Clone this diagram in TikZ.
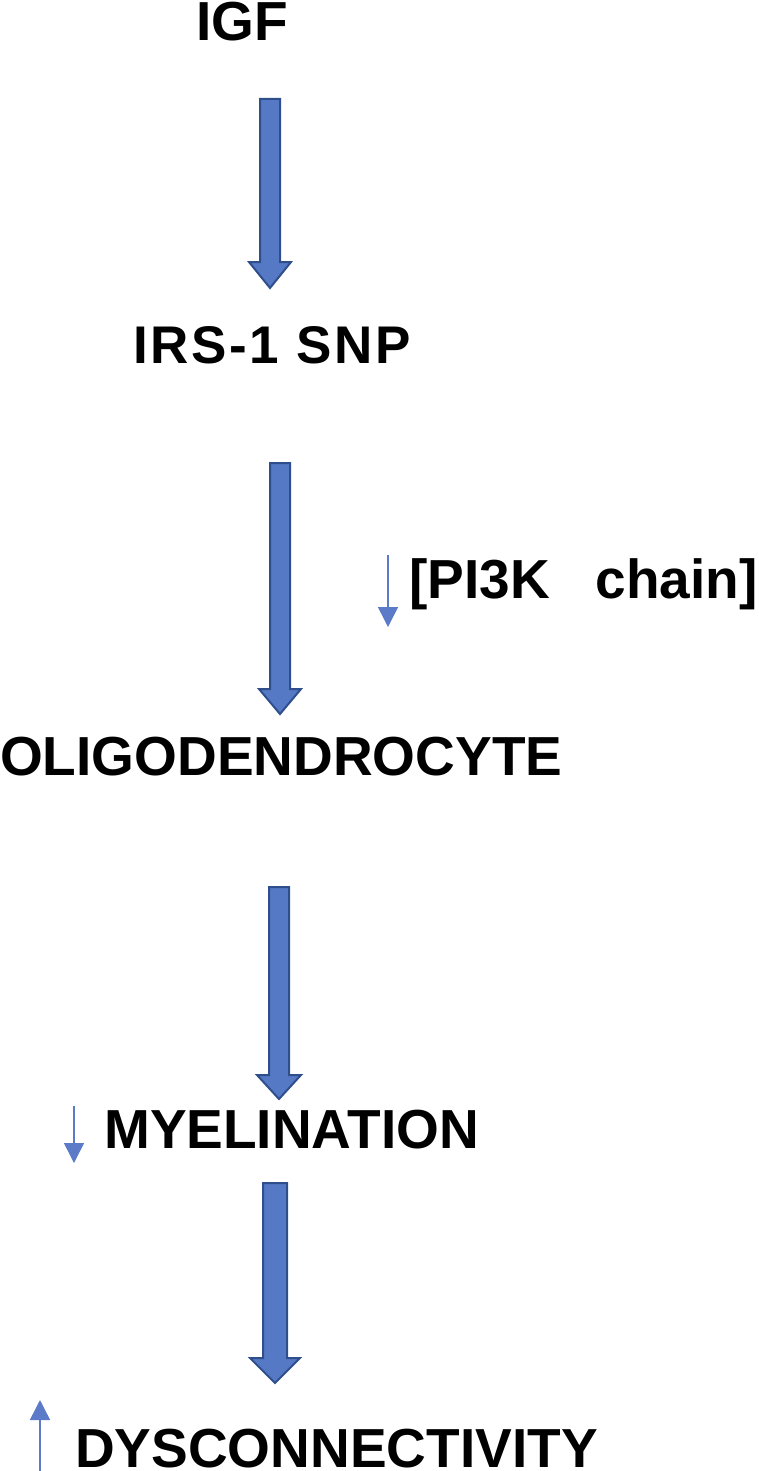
\documentclass[tikz,border=0pt]{standalone}
\usepackage{fontspec}
\setmainfont{Liberation Sans}
\usetikzlibrary{arrows.meta}
\definecolor{arrfill}{HTML}{5679C6}
\definecolor{arrline}{HTML}{2F4F8C}
\definecolor{thinblue}{HTML}{5B7BC8}
\tikzset{
  lbl/.style={anchor=base west, inner sep=0pt, font=\fontsize{55}{55}\selectfont\bfseries, text=black},
  fatarrow/.style={fill=arrfill, draw=arrline, line width=2pt, line join=miter},
  thinarrow/.style={draw=thinblue, line width=1.5pt, -{Triangle[width=20pt,length=20pt]}}
}
% #1 x centre, #2 top, #3 flange, #4 tip, #5 shaft half width, #6 head half width
\newcommand{\bigarrow}[6]{%
  \draw[fatarrow] (#1-#5,#2) -- (#1+#5,#2) -- (#1+#5,#3) -- (#1+#6,#3) -- (#1,#4) -- (#1-#6,#3) -- (#1-#5,#3) -- cycle;}
\begin{document}
\begin{tikzpicture}[x=1pt,y=-1pt]
\useasboundingbox (0,0) rectangle (758,1471);
\node[lbl] (igf) at (196,41) {IGF};
\node[lbl, font=\fontsize{53}{53}\selectfont\bfseries\addfontfeature{LetterSpace=5}] (irs) at (133,363) {IRS-1 SNP};
\node[lbl] (pik) at (409,598) {[PI3K\ \ \ chain]};
\node[lbl] (oli) at (0,775) {OLIGODENDROCYTE};
\node[lbl] (mye) at (104,1148) {MYELINATION};
\node[lbl] (dys) at (75,1467) {DYSCONNECTIVITY};
\bigarrow{270}{99}{262}{288}{10}{21}
\bigarrow{280}{463}{689}{714}{10}{21}
\bigarrow{279}{887}{1075}{1099}{10}{22}
\bigarrow{275}{1183}{1358}{1383}{12}{25}
\coordinate (a1s) at (388,555); \coordinate (a1e) at (388,627);
\draw[thinarrow] (a1s) -- (a1e);
\coordinate (a2s) at (74,1106); \coordinate (a2e) at (74,1163);
\draw[thinarrow] (a2s) -- (a2e);
\coordinate (a3s) at (40,1471); \coordinate (a3e) at (40,1400);
\draw[thinarrow] (a3s) -- (a3e);
\end{tikzpicture}
\end{document}
